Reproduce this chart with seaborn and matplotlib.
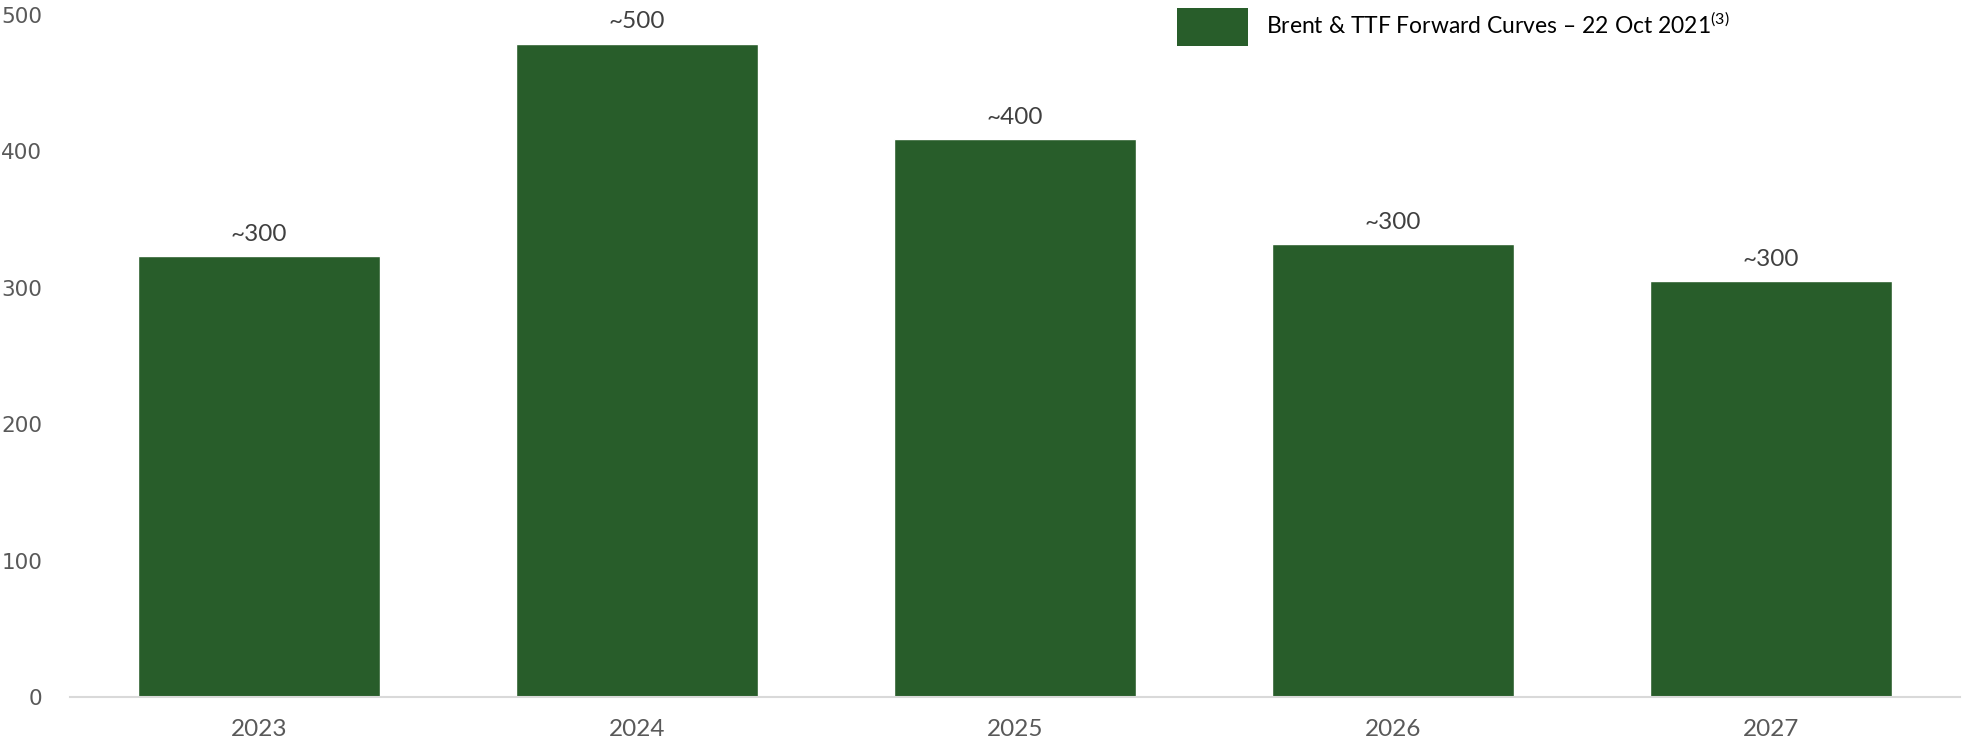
import matplotlib
matplotlib.use("Agg")
import matplotlib.pyplot as plt
import seaborn as sns
import pandas as pd
from matplotlib.patches import Patch

# data
anos = ["2023", "2024", "2025", "2026", "2027"]
valores = [323, 479, 409, 332, 305]
rotulos = ["~300", "~500", "~400", "~300", "~300"]
legenda = "Brent & TTF Forward Curves – 22 Oct 2021$^{(3)}$"

verde = "#285D2A"
cinza = "#595959"

sns.set_style("white")
plt.rcParams["font.family"] = ["Lato", "DejaVu Sans"]
plt.rcParams["mathtext.fontset"] = "custom"
plt.rcParams["mathtext.rm"] = "Lato"

df = pd.DataFrame({"ano": anos, "valor": valores})

fig = plt.figure(figsize=(19.62, 7.45), dpi=100)
ax = fig.add_axes([0.0357, 0.0644, 0.9633, 0.9156])

sns.barplot(data=df, x="ano", y="valor", color=verde, saturation=1, width=0.642, ax=ax)

for i, (v, r) in enumerate(zip(valores, rotulos)):
    ax.annotate(r, (i, v), xytext=(0, 8), textcoords="offset points",
                ha="center", va="bottom", fontsize=17.5, color="#404040")

ax.set_xlim(-0.5, 4.5)
ax.set_ylim(0, 500)
ax.set_yticks([0, 100, 200, 300, 400, 500])
ax.set_xlabel("")
ax.set_ylabel("")

for lado in ["top", "right", "left"]:
    ax.spines[lado].set_visible(False)
ax.spines["bottom"].set_color("#D9D9D9")
ax.spines["bottom"].set_linewidth(1.5)

ax.tick_params(axis="x", length=0, pad=16, labelsize=17.5, labelcolor=cinza)
ax.tick_params(axis="y", length=0, pad=20, labelsize=15.5, labelcolor=cinza)
for t in ax.get_yticklabels():
    t.set_fontfamily("DejaVu Sans")

handle = Patch(facecolor=verde, edgecolor="none")
fig.legend([handle], [legenda], loc="upper left", bbox_to_anchor=(0.594, 1.005),
           frameon=False, fontsize=16.5, handlelength=3.1, handleheight=2.2,
           handletextpad=0.8, labelcolor="black", borderaxespad=0.1)

fig.savefig("out.png", dpi=100)
